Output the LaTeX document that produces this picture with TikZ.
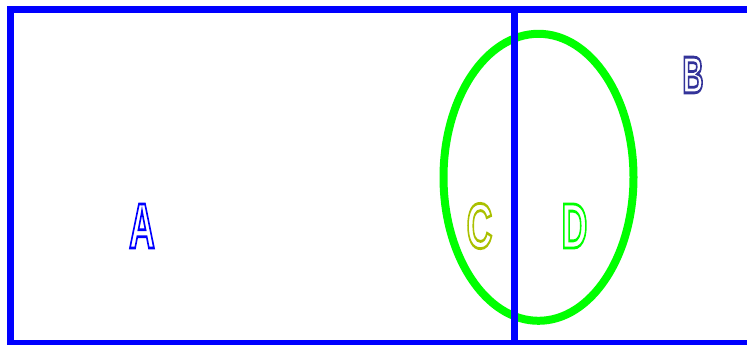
\documentclass[tikz,border=0pt]{standalone}
\usepackage{fontspec}
\setmainfont{Liberation Sans}
\definecolor{bblue}{RGB}{0,0,255}
\definecolor{bpurple}{RGB}{51,51,153}
\definecolor{cyellow}{RGB}{170,192,0}
\definecolor{dgreen}{RGB}{0,255,0}
\newcommand{\hollow}[3]{{\fontsize{#2}{#2}\selectfont\bfseries\color{#1}\special{pdf:code q 1 Tr 2.8 w}\scalebox{0.56}[1]{#3}\special{pdf:code Q}}}
\tikzset{
  wall/.style={draw=bblue, line width=7pt},
  zone/.style={draw=dgreen, line width=8pt},
  letter/.style={inner sep=0pt, anchor=center}
}
\begin{document}
\begin{tikzpicture}[x=1pt,y=-1pt]
\useasboundingbox (0,0) rectangle (747,345);
\clip (0,0) rectangle (747,345);
\draw[zone] (538.5,177.3) ellipse [x radius=95, y radius=143.5];
\draw[wall] (10.5,9.5) rectangle (780,343.5);
\draw[wall] (514.5,9.5) -- (514.5,343.5);
\node[letter] (A) at (142,226) {\hollow{bblue}{64pt}{A}};
\node[letter] (B) at (693,75) {\hollow{bpurple}{52pt}{B}};
\node[letter] (C) at (479.5,226) {\hollow{cyellow}{64pt}{C}};
\node[letter] (D) at (574.5,226) {\hollow{dgreen}{64pt}{D}};
\end{tikzpicture}
\end{document}
